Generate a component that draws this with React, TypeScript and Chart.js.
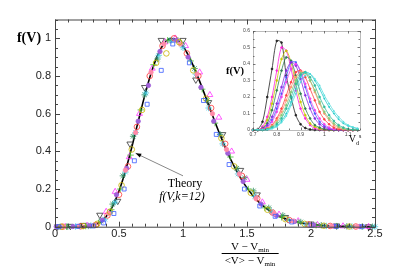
import React, { useEffect, useRef } from "react";
import { Chart, registerables } from "chart.js";
Chart.register(...registerables);

// ---------- Main plot data ----------
const theoryX = [0,0.05,0.1,0.15,0.2,0.25,0.3,0.35,0.4,0.45,0.5,0.55,0.6,0.65,0.7,0.75,0.8,0.85,0.9,0.95,1.0,1.05,1.1,1.15,1.2,1.25,1.3,1.35,1.4,1.45,1.5,1.55,1.6,1.65,1.7,1.75,1.8,1.85,1.9,1.95,2.0,2.05,2.1,2.15,2.2,2.25,2.3,2.35,2.4,2.45,2.5];
const theoryY = [0,0,0,0,0.0003,0.0019,0.0075,0.0226,0.054,0.108,0.189,0.296,0.422,0.559,0.693,0.813,0.907,0.97,0.998,0.993,0.958,0.899,0.823,0.737,0.646,0.556,0.47,0.39,0.32,0.258,0.206,0.162,0.126,0.097,0.074,0.056,0.042,0.031,0.023,0.017,0.012,0.009,0.006,0.0045,0.0031,0.0022,0.0015,0.001,0.0007,0.0005,0.0004];

const blackTriX = [0.02,0.12,0.22,0.35,0.49,0.586,0.7,0.83,1.0,1.1,1.2,1.31,1.45,1.58,1.8,2.0,2.2,2.45];
const blackTriY = [0,0.003,0.008,0.062,0.136,0.44,0.74,0.99,0.99,0.78,0.66,0.49,0.3,0.17,0.05,0.015,0.005,0.001];
const blueSqX = [0.03,0.18,0.3,0.38,0.46,0.54,0.62,0.72,0.83,0.92,1.05,1.16,1.26,1.36,1.48,1.6,1.72,1.85,2.0,2.2,2.4];
const blueSqY = [0,0.002,0.004,0.02,0.07,0.2,0.35,0.65,0.83,0.97,0.87,0.67,0.49,0.33,0.2,0.11,0.055,0.025,0.008,0.002,0];
const magTriX = [0.08,0.25,0.4,0.47,0.58,0.66,0.76,0.86,0.94,1.02,1.13,1.21,1.28,1.38,1.5,1.62,1.75,1.9,2.05,2.25,2.45];
const magTriY = [0,0.006,0.08,0.186,0.37,0.6,0.84,0.98,1.0,0.96,0.82,0.7,0.58,0.4,0.25,0.13,0.065,0.03,0.01,0.003,0];
const yelCircX = [0.05,0.22,0.33,0.43,0.52,0.6,0.68,0.79,0.87,0.97,1.08,1.18,1.3,1.4,1.53,1.66,1.8,1.95,2.1,2.3];
const yelCircY = [0,0.003,0.015,0.08,0.22,0.41,0.62,0.87,0.92,0.98,0.83,0.68,0.47,0.32,0.18,0.09,0.04,0.015,0.005,0.001];
const grnStarX = [0.1,0.26,0.36,0.45,0.53,0.61,0.7,0.8,0.9,0.99,1.09,1.19,1.29,1.42,1.48,1.55,1.67,1.78,1.92,2.08,2.28,2.48];
const grnStarY = [0,0.004,0.03,0.12,0.27,0.48,0.7,0.89,0.99,0.97,0.84,0.67,0.49,0.31,0.26,0.19,0.1,0.06,0.025,0.008,0.002,0];
const redCircX = [0.06,0.2,0.32,0.41,0.5,0.57,0.64,0.74,0.84,0.93,1.03,1.12,1.22,1.33,1.46,1.58,1.7,1.83,1.98,2.15,2.35];
const redCircY = [0,0.002,0.01,0.06,0.17,0.32,0.53,0.8,0.96,1.0,0.92,0.8,0.63,0.44,0.27,0.15,0.075,0.035,0.012,0.004,0.001];
const cyanStarX = [0.04,0.16,0.28,0.39,0.47,0.55,0.63,0.71,0.81,0.91,1.0,1.1,1.2,1.31,1.43,1.56,1.69,1.82,1.96,2.12,2.32,2.5];
const cyanStarY = [0,0.001,0.006,0.04,0.13,0.29,0.5,0.71,0.91,0.99,0.95,0.81,0.63,0.44,0.28,0.16,0.08,0.036,0.013,0.004,0.001,0];
const grnPlusX = [0.09,0.24,0.34,0.44,0.51,0.59,0.67,0.77,0.88,0.96,1.06,1.15,1.25,1.37,1.51,1.64,1.77,1.9,2.04,2.2,2.4];
const grnPlusY = [0,0.003,0.02,0.09,0.2,0.38,0.62,0.86,0.99,0.99,0.88,0.73,0.55,0.37,0.2,0.1,0.05,0.022,0.008,0.003,0];
const purpDotX = [0.01,0.14,0.27,0.37,0.48,0.56,0.65,0.73,0.82,0.95,1.04,1.14,1.24,1.35,1.47,1.61,1.73,1.87,2.02,2.18,2.38];
const purpDotY = [0,0.001,0.005,0.035,0.17,0.31,0.56,0.75,0.93,0.99,0.9,0.74,0.56,0.39,0.24,0.12,0.06,0.028,0.009,0.003,0.001];
const pinkDotX = [0.07,0.19,0.31,0.42,0.55,0.63,0.75,0.85,0.98,1.11,1.23,1.34,1.44,1.57,1.71,1.86,2.0,2.16,2.36];
const pinkDotY = [0,0.002,0.01,0.07,0.3,0.5,0.82,0.97,0.97,0.81,0.6,0.41,0.28,0.15,0.07,0.03,0.01,0.003,0.001];

const xTicksMain = [0, 0.5, 1, 1.5, 2, 2.5];
const yTicksMain = [0, 0.2, 0.4, 0.6, 0.8, 1];

// annotation arrow (data coordinates)
const arrowTip = { x: 0.63, y: 0.39 };
const arrowTail = { x: 1.0, y: 0.27 };

// ---------- Inset data ----------
const insetX = [0.70,0.72,0.74,0.76,0.78,0.80,0.82,0.84,0.86,0.88,0.90,0.92,0.94,0.96,0.98,1.00,1.02,1.04,1.06,1.08,1.10,1.12,1.14];
const insBlack = [0,0.005,0.05,0.2,0.37,0.54,0.53,0.33,0.2,0.09,0.035,0.012,0.003,0,0,0,0,0,0,0,0,0,0];
const insMagenta = [0,0,0.02,0.08,0.2,0.36,0.5,0.48,0.37,0.24,0.13,0.07,0.03,0.01,0.003,0,0,0,0,0,0,0,0];
const insYellow = [0,0,0.01,0.06,0.16,0.3,0.43,0.48,0.41,0.28,0.17,0.09,0.04,0.02,0.008,0.003,0,0,0,0,0,0,0];
const insGreen = [0,0,0.01,0.04,0.12,0.24,0.36,0.44,0.42,0.33,0.22,0.13,0.07,0.03,0.015,0.005,0.002,0,0,0,0,0,0];
const insBlue = [0,0,0.005,0.02,0.06,0.13,0.22,0.32,0.41,0.41,0.35,0.26,0.17,0.1,0.05,0.025,0.01,0.003,0,0,0,0,0];
const insPurple = [0,0,0.008,0.03,0.08,0.16,0.26,0.36,0.41,0.39,0.31,0.21,0.13,0.07,0.035,0.015,0.005,0.002,0,0,0,0,0];
const insMagenta2 = [0,0,0.004,0.015,0.05,0.11,0.2,0.29,0.37,0.4,0.36,0.28,0.19,0.12,0.07,0.035,0.015,0.005,0.002,0,0,0,0];
const insRed = [0,0,0.002,0.01,0.03,0.07,0.13,0.21,0.29,0.35,0.36,0.32,0.25,0.18,0.11,0.065,0.035,0.015,0.005,0.002,0,0,0];
const insSalmon = [0,0,0.002,0.01,0.025,0.06,0.11,0.18,0.26,0.32,0.355,0.35,0.3,0.23,0.16,0.1,0.06,0.03,0.013,0.005,0.001,0,0];
const insLightGreen = [0,0,0,0.005,0.02,0.045,0.09,0.15,0.23,0.3,0.345,0.345,0.3,0.24,0.17,0.11,0.07,0.04,0.02,0.008,0.003,0.001,0];
const insTeal = [0,0,0,0.004,0.015,0.035,0.07,0.13,0.2,0.28,0.335,0.35,0.32,0.27,0.2,0.14,0.09,0.055,0.03,0.015,0.006,0.002,0];
const insCyan = [0,0,0,0.002,0.01,0.025,0.055,0.1,0.17,0.25,0.32,0.35,0.34,0.3,0.25,0.19,0.14,0.1,0.065,0.04,0.025,0.015,0.008];
const insLightCyan = [0,0,0,0,0.008,0.02,0.045,0.085,0.15,0.22,0.29,0.33,0.34,0.31,0.27,0.21,0.16,0.115,0.08,0.05,0.03,0.018,0.01];
const insetXTicks = [0.7, 0.8, 0.9, 1, 1.1];
const insetYTicks = [0, 0.1, 0.2, 0.3, 0.4, 0.5, 0.6];

const zip = (xs: number[], ys: number[]) => xs.map((x, i) => ({ x, y: ys[i] }));

function framePlugin(id: string, o: any) {
  return {
    id,
    afterDatasetsDraw(chart: any) {
      const { ctx, chartArea: a, scales } = chart;
      const xs = scales.x, ys = scales.y;
      ctx.save();
      ctx.strokeStyle = o.color;
      ctx.lineWidth = o.lw;
      if (o.dash) ctx.setLineDash(o.dash);
      ctx.strokeRect(a.left + 0.5, a.top + 0.5, a.right - a.left, a.bottom - a.top);
      ctx.setLineDash([]);
      ctx.beginPath();
      const nx = Math.round((o.xMax - o.xMin) / o.xMinor);
      for (let i = 0; i <= nx; i++) {
        const v = o.xMin + i * o.xMinor;
        const major = Math.abs(v / o.xMajor - Math.round(v / o.xMajor)) < 1e-6;
        const len = major ? o.majLen : o.minLen;
        const p = Math.round(xs.getPixelForValue(v)) + 0.5;
        ctx.moveTo(p, a.bottom); ctx.lineTo(p, a.bottom - len);
        ctx.moveTo(p, a.top); ctx.lineTo(p, a.top + len);
      }
      const ny = Math.round((o.yMax - o.yMin) / o.yMinor);
      for (let i = 0; i <= ny; i++) {
        const v = o.yMin + i * o.yMinor;
        const major = Math.abs(v / o.yMajor - Math.round(v / o.yMajor)) < 1e-6;
        const len = major ? o.majLen : o.minLen;
        const p = Math.round(ys.getPixelForValue(v)) + 0.5;
        ctx.moveTo(a.left, p); ctx.lineTo(a.left + len, p);
        ctx.moveTo(a.right, p); ctx.lineTo(a.right - len, p);
      }
      ctx.stroke();
      if (o.arrow) {
        const tx = xs.getPixelForValue(o.arrow.tip.x), ty = ys.getPixelForValue(o.arrow.tip.y);
        const sx = xs.getPixelForValue(o.arrow.tail.x), sy = ys.getPixelForValue(o.arrow.tail.y);
        ctx.strokeStyle = "#888";
        ctx.lineWidth = 1;
        ctx.beginPath(); ctx.moveTo(sx, sy); ctx.lineTo(tx, ty); ctx.stroke();
        const ang = Math.atan2(ty - sy, tx - sx);
        ctx.fillStyle = "#000";
        ctx.beginPath();
        ctx.moveTo(tx, ty);
        ctx.lineTo(tx - 6 * Math.cos(ang - 0.35), ty - 6 * Math.sin(ang - 0.35));
        ctx.lineTo(tx - 6 * Math.cos(ang + 0.35), ty - 6 * Math.sin(ang + 0.35));
        ctx.closePath(); ctx.fill();
      }
      ctx.restore();
    },
  };
}

const sans = '"Liberation Sans", Arial, sans-serif';
const serif = '"Liberation Serif", "Times New Roman", serif';

export default function App() {
  const mainRef = useRef<HTMLCanvasElement>(null);
  const insetRef = useRef<HTMLCanvasElement>(null);

  useEffect(() => {
    const sc = (label: string, xs: number[], ys: number[], style: any, color: string, r: number, filled = false, rot = 0) => ({
      label, data: zip(xs, ys), pointStyle: style, pointRadius: r, rotation: rot,
      borderColor: color, backgroundColor: filled ? color : "rgba(0,0,0,0)", pointBorderWidth: 0.8,
      showLine: false, clip: false,
    });
    const main = new Chart(mainRef.current!, {
      type: "scatter",
      data: {
        datasets: [
          sc("blue", blueSqX, blueSqY, "rect", "#3a5cff", 2.8),
          sc("yellow", yelCircX, yelCircY, "circle", "#c8b400", 2.8),
          sc("pink", pinkDotX, pinkDotY, "circle", "#ff8aa8", 2.2, true),
          sc("purple", purpDotX, purpDotY, "circle", "#a060d8", 2.2, true),
          sc("red", redCircX, redCircY, "circle", "#ff3b3b", 2.8),
          sc("greenPlus", grnPlusX, grnPlusY, "cross", "#44bb33", 3.2),
          sc("cyan", cyanStarX, cyanStarY, "star", "#40c8e0", 3.2),
          sc("green", grnStarX, grnStarY, "star", "#2f8f5f", 3.2),
          sc("magenta", magTriX, magTriY, "triangle", "#ff33ff", 3.4),
          sc("black", blackTriX, blackTriY, "triangle", "#333", 3.6, false, 180),
          {
            label: "theory", data: zip(theoryX, theoryY), showLine: true, pointRadius: 0,
            borderColor: "#000", borderWidth: 1.6, cubicInterpolationMode: "monotone", clip: false,
          } as any,
        ],
      },
      options: {
        animation: false, responsive: false,
        layout: { padding: { left: 0, right: 40, top: 19.5, bottom: 0 } },
        plugins: { legend: { display: false }, tooltip: { enabled: false } },
        scales: {
          x: {
            type: "linear", min: 0, max: 2.5,
            afterFit: (s: any) => { s.height = 39.3; },
            afterBuildTicks: (s: any) => { s.ticks = xTicksMain.map((v) => ({ value: v })); },
            grid: { display: false, drawTicks: false },
            border: { display: false },
            ticks: { padding: 1, color: "#222", font: { family: sans, size: 11 }, callback: (v: any) => String(v), maxRotation: 0 },
          },
          y: {
            type: "linear", min: 0, max: 1.1,
            afterFit: (s: any) => { s.width = 55; },
            afterBuildTicks: (s: any) => { s.ticks = yTicksMain.map((v) => ({ value: v })); },
            grid: { display: false, drawTicks: false },
            border: { display: false },
            ticks: { padding: 4, color: "#222", font: { family: sans, size: 11 }, callback: (v: any) => String(v) },
          },
        },
      } as any,
      plugins: [framePlugin("mainFrame", {
        color: "#444", lw: 1, xMin: 0, xMax: 2.5, xMinor: 0.1, xMajor: 0.5,
        yMin: 0, yMax: 1.1, yMinor: 0.05, yMajor: 0.2, majLen: 5, minLen: 3,
        arrow: { tip: arrowTip, tail: arrowTail },
      })],
    });

    const ln = (label: string, ys: number[], color: string, style: any = "circle") => ({
      label, data: zip(insetX, ys), showLine: true, borderColor: color, backgroundColor: color,
      borderWidth: 0.8, pointRadius: 0.9, pointStyle: style, tension: 0.3, clip: false,
    });
    const inset = new Chart(insetRef.current!, {
      type: "scatter",
      data: {
        datasets: [
          ln("lightcyan", insLightCyan, "#55dddd", "cross"),
          ln("cyan", insCyan, "#22cccc", "cross"),
          ln("teal", insTeal, "#33bb99"),
          ln("lightgreen", insLightGreen, "#88cc77"),
          ln("salmon", insSalmon, "#ff9070"),
          ln("red", insRed, "#ff4040"),
          ln("magenta2", insMagenta2, "#ee44ee"),
          ln("purple", insPurple, "#8a2be2"),
          ln("blue", insBlue, "#4455ff", "rect"),
          ln("green", insGreen, "#2e7d4f"),
          ln("yellow", insYellow, "#c8c800"),
          ln("magenta", insMagenta, "#ff22dd"),
          ln("black", insBlack, "#222"),
        ],
      },
      options: {
        animation: false, responsive: false,
        layout: { padding: { left: 0, right: 7, top: 9, bottom: 0 } },
        plugins: { legend: { display: false }, tooltip: { enabled: false } },
        scales: {
          x: {
            type: "linear", min: 0.7, max: 1.15,
            afterFit: (s: any) => { s.height = 12; },
            afterBuildTicks: (s: any) => { s.ticks = insetXTicks.map((v) => ({ value: v })); },
            grid: { display: false, drawTicks: false }, border: { display: false },
            ticks: { padding: 2, color: "#444", font: { family: sans, size: 5 }, callback: (v: any) => String(v), maxRotation: 0 },
          },
          y: {
            type: "linear", min: 0, max: 0.6,
            afterFit: (s: any) => { s.width = 31; },
            afterBuildTicks: (s: any) => { s.ticks = insetYTicks.map((v) => ({ value: v })); },
            grid: { display: false, drawTicks: false }, border: { display: false },
            ticks: { padding: 3, color: "#444", font: { family: sans, size: 5 }, callback: (v: any) => String(v) },
          },
        },
      } as any,
      plugins: [framePlugin("insetFrame", {
        color: "#555", lw: 0.8, dash: [1, 1], xMin: 0.7, xMax: 1.15, xMinor: 0.05, xMajor: 0.1,
        yMin: 0, yMax: 0.6, yMinor: 0.05, yMajor: 0.1, majLen: 2.5, minLen: 1.5,
      })],
    });
    return () => { main.destroy(); inset.destroy(); };
  }, []);

  const abs = (left: number, top: number, extra: any = {}) => ({
    position: "absolute" as const, left, top, transform: "translate(-50%,-50%)", whiteSpace: "nowrap" as const, lineHeight: 1, ...extra,
  });
  const subStyle = { fontSize: "7px", position: "relative" as const, top: "2px" };

  return (
    <div style={{ position: "fixed", left: 0, top: 0, width: 415, height: 266, background: "#fff", overflow: "hidden" }}>
      <canvas ref={mainRef} width={415} height={266} style={{ position: "absolute", left: 0, top: 0 }} />
      <canvas ref={insetRef} width={145} height={120} style={{ position: "absolute", left: 222, top: 22 }} />
      <div style={abs(29, 38, { fontFamily: serif, fontWeight: "bold", fontSize: 14 })}>f(V)</div>
      <div style={abs(235, 71, { fontFamily: serif, fontWeight: "bold", fontSize: 10.5 })}>f(V)</div>
      <div style={abs(355, 139, { fontFamily: serif, fontSize: 10 })}>
        V<span style={{ fontSize: "6px", position: "relative", top: "3px" }}>d</span><span style={{ fontSize: "6px", position: "relative", top: "-4px" }}>s</span>
      </div>
      <div style={abs(185, 183, { fontFamily: serif, fontSize: 12 })}>Theory</div>
      <div style={abs(182, 196, { fontFamily: serif, fontSize: 12, fontStyle: "italic" })}>f(V,k=12)</div>
      <div style={{ position: "absolute", left: 250, top: 241, transform: "translateX(-50%)", fontFamily: serif, fontSize: 11, textAlign: "center", whiteSpace: "nowrap" }}>
        <div style={{ lineHeight: "11px", height: 11, padding: "0 3px 1px" }}>V − V<span style={subStyle}>min</span></div>
        <div style={{ lineHeight: "11px", height: 11, borderTop: "1px solid #000", padding: "1px 3px 0" }}>&lt;V&gt; − V<span style={subStyle}>min</span></div>
      </div>
    </div>
  );
}
